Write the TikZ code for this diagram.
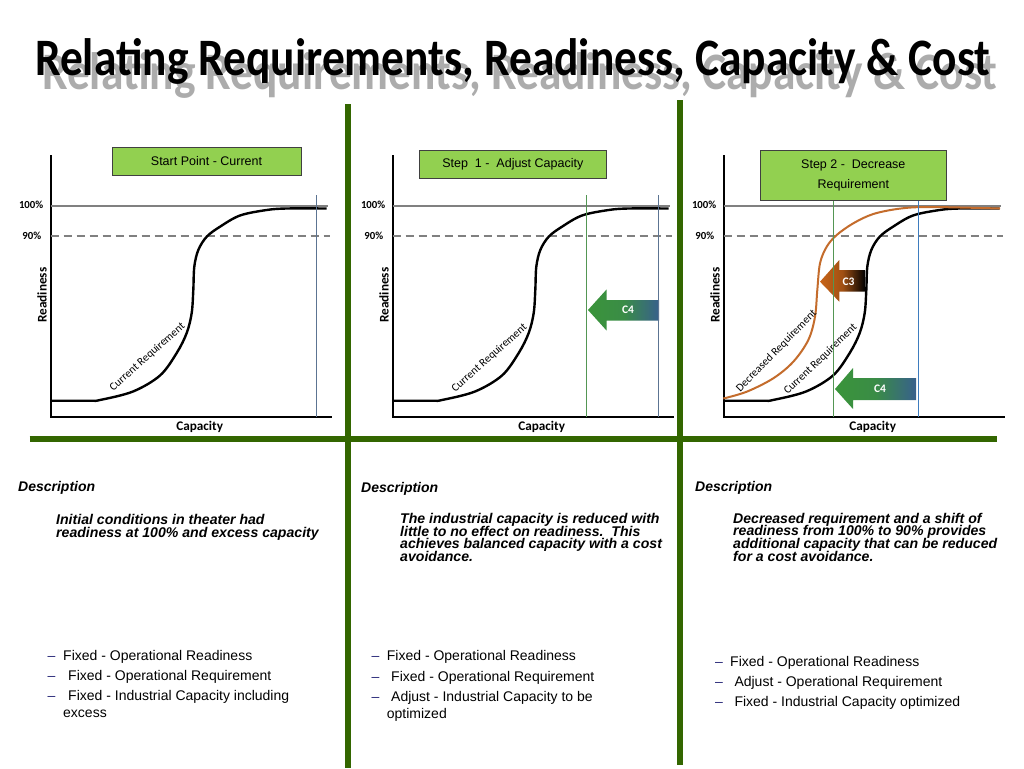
\documentclass[tikz,border=0pt]{standalone}
\usepackage{graphicx}
\usepackage{fontspec}
\setmainfont{Liberation Sans}
\newfontfamily\calfont{Carlito}
\definecolor{divgreen}{RGB}{51,102,0}
\definecolor{boxgreen}{RGB}{146,208,80}
\definecolor{vgreen}{RGB}{84,150,84}
\definecolor{vbluegray}{RGB}{92,116,146}
\definecolor{vblue}{RGB}{62,124,190}
\definecolor{orng}{RGB}{196,108,44}
\definecolor{arrorange}{RGB}{200,100,24}
\definecolor{arrgreen}{RGB}{58,148,58}
\definecolor{arrblue}{RGB}{56,96,140}
\definecolor{navy}{RGB}{40,40,120}
\definecolor{lgray}{RGB}{128,128,128}
\definecolor{shadowgray}{RGB}{172,172,172}

\newcommand\panelframe[2]{%
\begin{scope}[xshift=#1pt]
\draw[axisline] (50.7,155) -- (50.7,416.7) -- (331.7,416.7);
\draw[fullline] (50.7,205.7) -- (328,205.7);
\draw[dashline] (50.7,236) -- (330,236);
\node[pct] (p100#2) at (43.5,205.2) {100\%};
\node[pct] (p90#2) at (41.5,235.7) {90\%};
\node[axlab, rotate=90] (yl#2) at (42,295) {Readiness};
\node[axlab] (xl#2) at (199.7,426.5) {Capacity};
\end{scope}}

\newcommand\reqcurve[1]{%
\begin{scope}[xshift=#1pt]
\draw[reqline] plot[smooth, tension=0.55] coordinates {(50.7,400.7) (90,400.7) (100,400) (133,391.5) (160,375.5) (176.7,353) (186.7,333) (191.7,313) (193.3,290) (194.3,266.7) (198.3,250) (206.7,236.7) (220,226.7) (240,215.5) (266.7,210) (286.7,208.5) (326.7,208.5)};
\end{scope}}

\newcommand\bul[5]{%
\node[bullet, text=navy] (#5d) at (#1,#2) {–};
\node[bullet] (#5) at (#3,#2) {#4};}

\begin{document}
\begin{tikzpicture}[x=1pt,y=-1pt,
  divider/.style={line width=6.5pt, draw=divgreen},
  axisline/.style={line width=1.8pt, draw=black},
  fullline/.style={line width=1.8pt, draw=lgray},
  dashline/.style={line width=1.8pt, draw=lgray, dash pattern=on 8pt off 5pt},
  reqline/.style={line width=2.4pt, draw=black},
  decline/.style={line width=2pt, draw=orng},
  vline/.style={line width=1.5pt},
  stepbox/.style={draw=black!75, line width=0.8pt, fill=boxgreen, inner sep=0pt, align=center,
     font=\fontsize{12.5}{20}\selectfont},
  pct/.style={font=\calfont\bfseries\fontsize{10.8}{12}\selectfont, anchor=east, inner sep=0pt},
  axlab/.style={font=\calfont\bfseries\fontsize{13.2}{14}\selectfont, inner sep=0pt},
  curvelab/.style={font=\calfont\fontsize{11.2}{12}\selectfont, inner sep=0pt},
  arrlab/.style={font=\calfont\bfseries\fontsize{11.5}{12}\selectfont, text=white, inner sep=0pt},
  desc/.style={font=\bfseries\itshape\fontsize{14}{16}\selectfont, anchor=base west, inner sep=0pt},
  body/.style={font=\bfseries\itshape\fontsize{14.1}{12.7}\selectfont, anchor=base west, inner sep=0pt},
  bullet/.style={font=\fontsize{14}{16}\selectfont, anchor=base west, inner sep=0pt},
  titletext/.style={anchor=base west, inner sep=0pt, font=\calfont\bfseries}
]
\useasboundingbox[fill=white] (0,0) rectangle (1024,768);

% title
\node[titletext, text=shadowgray] (titleshadow) at (42,89)
  {\resizebox{955pt}{37pt}{Relating Requirements, Readiness, Capacity \& Cost}};
\node[titletext, text=black] (title) at (35,76)
  {\resizebox{955pt}{37pt}{Relating Requirements, Readiness, Capacity \& Cost}};

% dividers
\draw[divider] (348,104) -- (348,768);
\draw[divider] (680,100) -- (680,765);
\draw[divider] (29.5,439) -- (997,439);

% ---- panel frames
\panelframe{0}{a}
\panelframe{342}{b}
\panelframe{673}{c}

% ---- panel 1
\reqcurve{0}
\draw[vline, draw=vbluegray] (316.7,195) -- (316.7,416.7);
\node[curvelab, rotate=41.6] (cr1) at (147.5,357) {Current Requirement};
\node[stepbox, minimum width=189pt, minimum height=28pt] (box1) at (206.5,161) {Start Point - Current};

% ---- panel 2
\reqcurve{342}
\node[curvelab, rotate=41.6] (cr2) at (489.5,358) {Current Requirement};
\shade[left color=arrgreen, right color=arrblue, middle color=arrgreen!85!arrblue]
  (588,310) -- (606.7,289.3) -- (606.7,300) -- (659,300) -- (659,320.7) -- (606.7,320.7) -- (606.7,330.7) -- cycle;
\node[arrlab] (c4b) at (628,309.5) {C4};
\draw[vline, draw=vgreen] (586.7,195) -- (586.7,416.7);
\draw[vline, draw=vbluegray] (658.3,195) -- (658.3,416.7);
\node[stepbox, minimum width=187.7pt, minimum height=28pt] (box2) at (512.8,164) {Step\ \ 1 -\ \ Adjust Capacity};

% ---- panel 3
\reqcurve{673}
\draw[decline] plot[smooth, tension=0.55] coordinates {(723.3,398.5) (746.7,391.7) (773.3,378.3) (793.3,361.7) (808.3,340) (815,316.7) (817.3,290) (820,263.3) (826.7,246.7) (836.7,235) (853.3,223.3) (873.3,214) (900,208.6) (930,207) (1000,208.5)};
\node[curvelab, rotate=45.5] (dr3) at (776.5,351) {Decreased Requirement};
\node[curvelab, rotate=43.8] (cr3) at (820.5,359.5) {Current Requirement};
\shade[left color=arrorange, right color=black, middle color=arrorange!80!black]
  (820,281.7) -- (839.3,260) -- (839.3,270) -- (865,270) -- (865,291.7) -- (839.3,291.7) -- (839.3,301.7) -- cycle;
\node[arrlab] (c3c) at (848.5,281.5) {C3};
\shade[left color=arrgreen, right color=arrblue, middle color=arrgreen!85!arrblue]
  (835,389) -- (853,368) -- (853,378) -- (916,378) -- (916,400) -- (853,400) -- (853,409) -- cycle;
\node[arrlab] (c4c) at (880,389) {C4};
\draw[vline, draw=vgreen] (833.3,193) -- (833.3,416.7);
\draw[vline, draw=vblue] (918.3,193) -- (918.3,416.7);
\node[stepbox, minimum width=186.7pt, minimum height=50pt] (box3) at (853.3,175) {Step 2 -\ \ Decrease\\Requirement};

% ---- descriptions
\node[desc] (d1) at (18,491.5) {Description};
\node[body] (b1a) at (56,524.5) {Initial conditions in theater had};
\node[body] (b1b) at (56,537.2) {readiness at 100\% and excess capacity};

\node[desc] (d2) at (361,492) {Description};
\node[body] (b2a) at (400,523.5) {The industrial capacity is reduced with};
\node[body] (b2b) at (400,536.2) {little to no effect on readiness.\ \ This};
\node[body] (b2c) at (400,548.9) {achieves balanced capacity with a cost};
\node[body] (b2d) at (400,561.6) {avoidance.};

\node[desc] (d3) at (695,491) {Description};
\node[body] (b3a) at (733,523) {Decreased requirement and a shift of};
\node[body] (b3b) at (733,535.7) {readiness from 100\% to 90\% provides};
\node[body] (b3c) at (733,548.4) {additional capacity that can be reduced};
\node[body] (b3d) at (733,561.1) {for a cost avoidance.};

% ---- bullets
\bul{47.5}{660}{63}{Fixed - Operational Readiness}{l1a}
\bul{47.5}{680.5}{68}{Fixed - Operational Requirement}{l1b}
\bul{47.5}{700.5}{68}{Fixed - Industrial Capacity including}{l1c}
\node[bullet] (l1e) at (63,717) {excess};

\bul{371.5}{660.5}{386.7}{Fixed - Operational Readiness}{l2a}
\bul{371.5}{681}{391}{Fixed - Operational Requirement}{l2b}
\bul{371.5}{701.5}{391}{Adjust - Industrial Capacity to be}{l2c}
\node[bullet] (l2e) at (386.7,718.5) {optimized};

\bul{715}{666}{730}{Fixed - Operational Readiness}{l3a}
\bul{715}{686.5}{734.3}{Adjust - Operational Requirement}{l3b}
\bul{715}{706.5}{734.3}{Fixed - Industrial Capacity optimized}{l3c}
\end{tikzpicture}
\end{document}
